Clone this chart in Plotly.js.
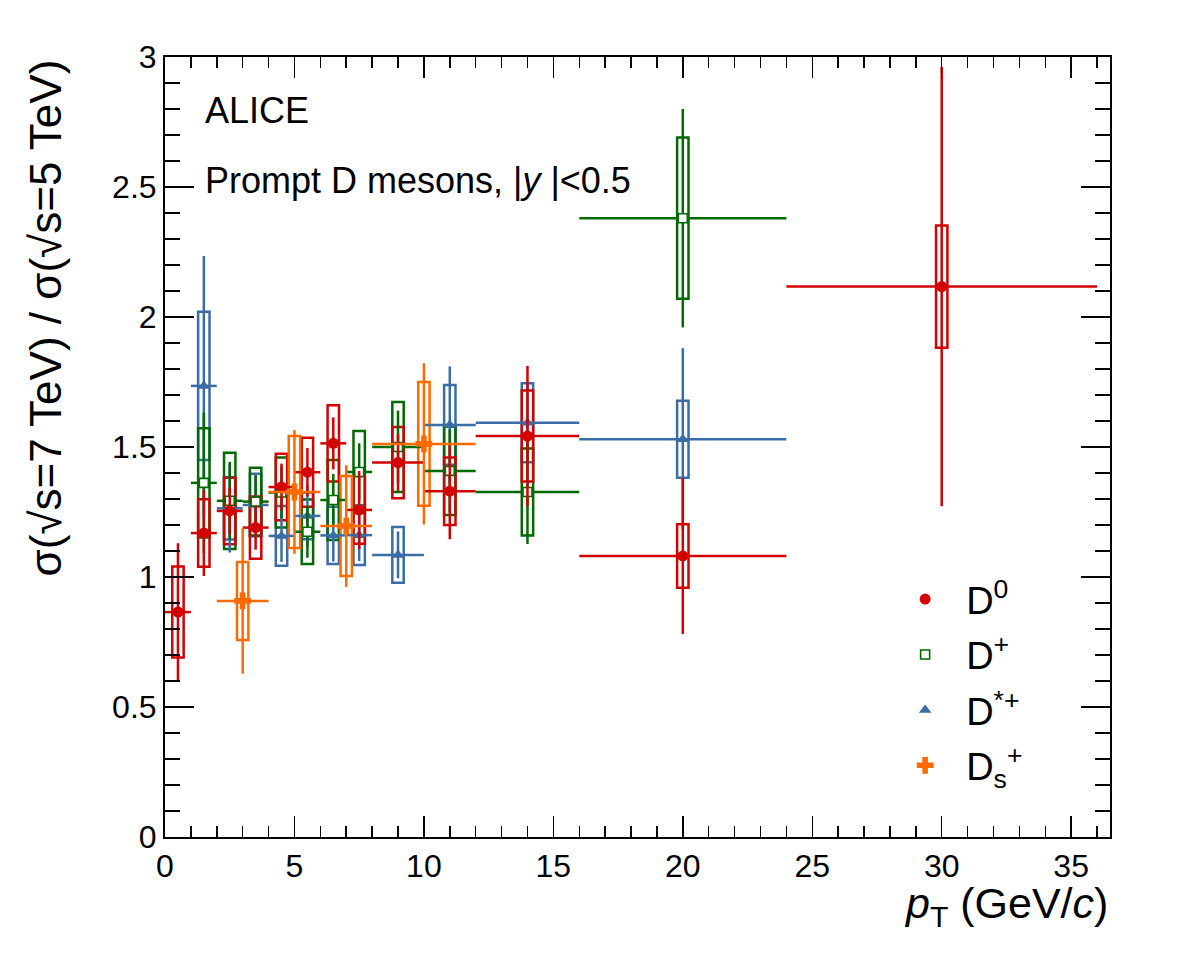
<!DOCTYPE html>
<html>
<head>
<meta charset="utf-8">
<script src="https://cdn.plot.ly/plotly-3.0.1.min.js"></script>
<style>
  html, body { margin: 0; padding: 0; background: #ffffff; }
  #plot { width: 1182px; height: 953px; }
</style>
</head>
<body>
<div id="plot"></div>
<script>
// Ratio of prompt D-meson cross sections, sqrt(s)=7 TeV over sqrt(s)=5 TeV, ALICE |y|<0.5

// D0
const d0_pt     = [0.5, 1.5, 2.5, 3.5, 4.5, 5.5, 6.5, 7.5, 9, 11, 14, 20, 30];
const d0_binHW  = [0.5, 0.5, 0.5, 0.5, 0.5, 0.5, 0.5, 0.5, 1, 1, 2, 4, 6];
const d0_ratio  = [0.865, 1.169, 1.254, 1.19, 1.346, 1.403, 1.514, 1.258, 1.44, 1.33, 1.542, 1.081, 2.117];
const d0_stat   = [0.265, 0.165, 0.09, 0.085, 0.09, 0.093, 0.1, 0.15, 0.11, 0.185, 0.27, 0.3, 0.845];
const d0_syst   = [0.175, 0.13, 0.128, 0.12, 0.128, 0.133, 0.147, 0.13, 0.137, 0.13, 0.175, 0.122, 0.235];

// D+
const dplus_pt    = [1.5, 2.5, 3.5, 4.5, 5.5, 6.5, 7.5, 9, 11, 14, 20];
const dplus_binHW = [0.5, 0.5, 0.5, 0.5, 0.5, 0.5, 0.5, 1, 1, 2, 4];
const dplus_ratio = [1.362, 1.293, 1.29, 1.325, 1.174, 1.296, 1.404, 1.50, 1.408, 1.327, 2.38];
const dplus_stat  = [0.27, 0.15, 0.1, 0.1, 0.1, 0.1, 0.11, 0.14, 0.16, 0.2, 0.42];
const dplus_syst  = [0.21, 0.185, 0.13, 0.135, 0.124, 0.154, 0.158, 0.173, 0.17, 0.167, 0.31];

// D*+
const dstar_pt    = [1.5, 2.5, 3.5, 4.5, 5.5, 6.5, 7.5, 9, 11, 14, 20];
const dstar_binHW = [0.5, 0.5, 0.5, 0.5, 0.5, 0.5, 0.5, 1, 1, 2, 4];
const dstar_ratio = [1.735, 1.264, 1.277, 1.158, 1.235, 1.16, 1.161, 1.085, 1.585, 1.593, 1.53];
const dstar_stat  = [0.5, 0.17, 0.12, 0.1, 0.12, 0.1, 0.1, 0.09, 0.225, 0.15, 0.35];
const dstar_syst  = [0.285, 0.12, 0.12, 0.115, 0.09, 0.11, 0.115, 0.107, 0.153, 0.152, 0.148];

// Ds+
const ds_pt    = [3, 5, 7, 10];
const ds_binHW = [1, 1, 1, 2];
const ds_ratio = [0.908, 1.327, 1.196, 1.512];
const ds_stat  = [0.28, 0.238, 0.234, 0.31];
const ds_syst  = [0.15, 0.215, 0.192, 0.238];

const xTickVals = [0, 5, 10, 15, 20, 25, 30, 35];
const yTickVals = [0, 0.5, 1, 1.5, 2, 2.5, 3];
const yTickText = ['0', '0.5', '1', '1.5', '2', '2.5', '3'];

const RED = '#d20000', GREEN = '#006a00', BLUE = '#3a6ca5', ORANGE = '#ff6a00';
const FONT = 'Liberation Sans, Arial, Helvetica, sans-serif';
const BOX_HALF = 0.22;   // half width of the systematic boxes in pT units
const LW = 2.5;

function series(name, rank, x, xe, y, ye, color, marker) {
  return {
    type: 'scatter', mode: 'markers', name: name, legendrank: rank, legendgroup: name,
    x: x, y: y,
    error_x: { type: 'data', array: xe, color: color, thickness: LW, width: 0 },
    error_y: { type: 'data', array: ye, color: color, thickness: LW, width: 0 },
    marker: marker, cliponaxis: false
  };
}

function systBoxes(x, y, s, color) {
  return x.map((xi, i) => ({
    type: 'rect', xref: 'x', yref: 'y', layer: 'below',
    x0: xi - BOX_HALF, x1: xi + BOX_HALF,
    y0: y[i] - s[i], y1: y[i] + s[i],
    line: { color: color, width: LW }, fillcolor: 'rgba(0,0,0,0)'
  }));
}

const traces = [
  series('D<sup>*+</sup>', 3, dstar_pt, dstar_binHW, dstar_ratio, dstar_stat, BLUE,
         { symbol: 'triangle-up', size: 11, color: BLUE }),
  series('D<sup>+</sup>', 2, dplus_pt, dplus_binHW, dplus_ratio, dplus_stat, GREEN,
         { symbol: 'square', size: 9, color: '#ffffff', line: { color: GREEN, width: 1.6 } }),
  series('D<sup>0</sup>', 1, d0_pt, d0_binHW, d0_ratio, d0_stat, RED,
         { symbol: 'circle', size: 11, color: RED }),
  series('D<sub>s</sub><sup>+</sup>', 4, ds_pt, ds_binHW, ds_ratio, ds_stat, ORANGE,
         { symbol: 'cross', size: 14, color: ORANGE })
];

const shapes = [].concat(
  systBoxes(dstar_pt, dstar_ratio, dstar_syst, BLUE),
  systBoxes(dplus_pt, dplus_ratio, dplus_syst, GREEN),
  systBoxes(d0_pt, d0_ratio, d0_syst, RED),
  systBoxes(ds_pt, ds_ratio, ds_syst, ORANGE)
);

const axisCommon = {
  showgrid: false, zeroline: false, showline: true, linecolor: '#000', linewidth: 2,
  mirror: 'ticks', ticks: 'inside', tickcolor: '#000', tickwidth: 1.5,
  tickfont: { family: FONT, size: 32, color: '#000' }
};

const layout = {
  width: 1182, height: 953,
  margin: { l: 165, r: 72, t: 57, b: 116 },
  paper_bgcolor: '#ffffff', plot_bgcolor: '#ffffff',
  font: { family: FONT, color: '#000' },
  xaxis: Object.assign({}, axisCommon, {
    range: [0, 36.5], tickvals: xTickVals, ticklen: 21,
    minor: { dtick: 1, ticklen: 11, ticks: 'inside', tickcolor: '#000', tickwidth: 1.5 }
  }),
  yaxis: Object.assign({}, axisCommon, {
    range: [0, 3], tickvals: yTickVals, ticktext: yTickText, ticklen: 29,
    minor: { dtick: 0.1, ticklen: 15, ticks: 'inside', tickcolor: '#000', tickwidth: 1.5 }
  }),
  shapes: shapes,
  showlegend: true,
  legend: {
    x: 0.761, y: 0.345, xanchor: 'left', yanchor: 'top',
    font: { family: FONT, size: 38, color: '#000' },
    bgcolor: 'rgba(0,0,0,0)', borderwidth: 0, itemwidth: 72,
    traceorder: 'grouped', tracegroupgap: 3, itemsizing: 'trace'
  },
  annotations: [
    { xref: 'paper', yref: 'paper', x: 0.04, y: 0.932, xanchor: 'left', yanchor: 'middle',
      text: 'ALICE', showarrow: false, font: { family: FONT, size: 36, color: '#000' } },
    { xref: 'paper', yref: 'paper', x: 0.04, y: 0.842, xanchor: 'left', yanchor: 'middle',
      text: 'Prompt D mesons, |<i>y</i> |<0.5', showarrow: false,
      font: { family: FONT, size: 36, color: '#000' } },
    { xref: 'paper', yref: 'paper', x: 1.0, y: -0.088, xanchor: 'right', yanchor: 'middle',
      text: '<i>p</i><sub>T</sub> (GeV/<i>c</i>)', showarrow: false,
      font: { family: FONT, size: 43, color: '#000' } },
    { xref: 'paper', yref: 'paper', x: -0.126, y: 1.0, xanchor: 'center', yanchor: 'top',
      textangle: -90, text: 'σ(√s=7 TeV) / σ(√s=5 TeV)', showarrow: false,
      font: { family: FONT, size: 44, color: '#000' } }
  ]
};

Plotly.newPlot('plot', traces, layout, { displayModeBar: false, staticPlot: true });
</script>
</body>
</html>
